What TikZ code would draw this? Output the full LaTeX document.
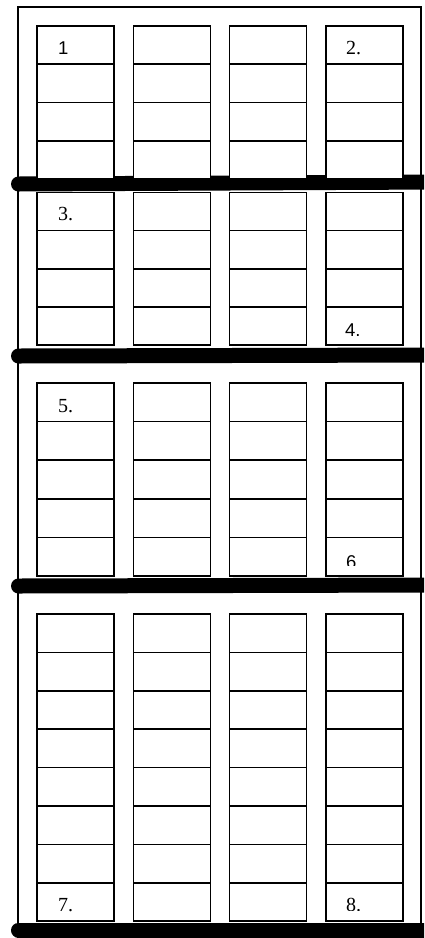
\documentclass[tikz,border=0pt]{standalone}
\usepackage{fontspec}
\setmainfont{Liberation Serif}
\newfontfamily\lsans{Liberation Sans}
\begin{document}
\begin{tikzpicture}[x=1pt,y=-1pt,
  cell/.style={draw, fill=white, line width=1.6pt, minimum width=77pt, inner sep=0pt, outer sep=0pt},
  band/.style={line width=15pt, line cap=round},
  frame/.style={draw, line width=1.8pt},
  serifnum/.style={anchor=base west, inner sep=0pt, font=\fontsize{20}{20}\selectfont},
  sansnum/.style={anchor=base west, inner sep=0pt, font=\lsans\fontsize{18.5}{18.5}\selectfont}]
\useasboundingbox (0,0) rectangle (424,938);
\clip (0,0) rectangle (424,938);
% outer frame
\draw[frame] (18,7) rectangle (421,937);
% thick bands
\coordinate (b1l) at (18.5,184); \coordinate (b1r) at (440,182);
\coordinate (b2l) at (18.5,356); \coordinate (b2r) at (440,355);
\coordinate (b3l) at (18.5,586); \coordinate (b3r) at (440,585);
\coordinate (b4l) at (18.5,930); \coordinate (b4r) at (440,930);
\draw[band] (b1l) -- (b1r);
\draw[band] (b2l) -- (b2r);
\draw[band] (b3l) -- (b3r);
\draw[band] (b4l) -- (b4r);
% cells
\foreach \s/\top/\n/\h in {1/26/4/38.25, 2/192.5/4/38.1, 3/383/5/38.6, 4/614/8/38.4} {
  \foreach \c/\xl in {1/37,2/133.3,3/229.6,4/326} {
    \foreach \r in {1,...,\n} {
      \node[cell, minimum height=\h pt] (s\s c\c r\r) at ({\xl+38.5},{\top+(\r-0.5)*\h}) {};
    }
  }
}
% labels
\node[sansnum] (l1) at (58,54) {1};
\node[serifnum] (l2) at (346,54) {2.};
\node[serifnum] (l3) at (58,220) {3.};
\node[sansnum] (l4) at (345,336) {4.};
\node[serifnum] (l5) at (58,412) {5.};
\begin{scope}
  \clip (330,540) rectangle (400,565);
  \node[sansnum] (l6) at (346,568) {6};
\end{scope}
\node[serifnum] (l7) at (58,911) {7.};
\begin{scope}
  \clip (330,880) rectangle (400,910);
  \node[serifnum] (l8) at (346,911) {8.};
\end{scope}
\end{tikzpicture}
\end{document}
